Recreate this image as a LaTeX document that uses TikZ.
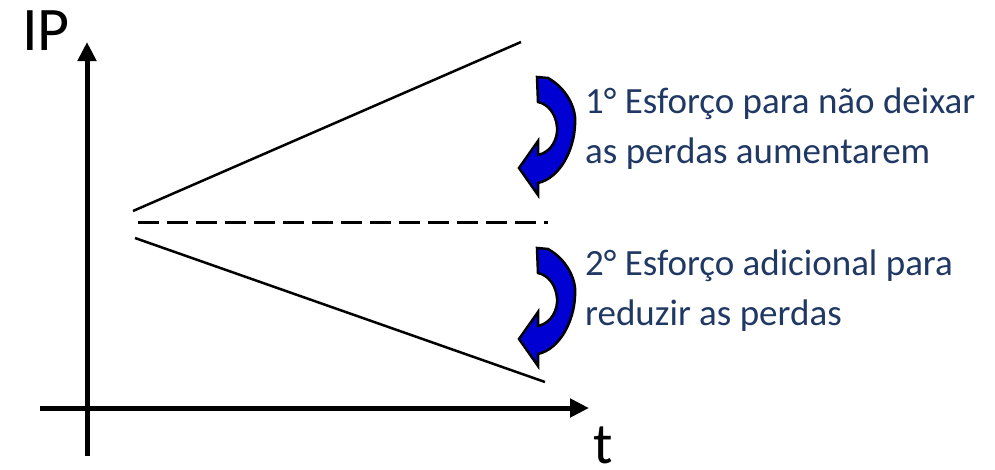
\documentclass[tikz,border=0pt]{standalone}
\usepackage{fontspec}
\setmainfont{Carlito}
\usetikzlibrary{arrows.meta}
\definecolor{txtblue}{RGB}{32,56,100}
\definecolor{arrblue}{RGB}{0,0,210}
\tikzset{
  axis/.style={line width=5pt,-{Triangle[length=19pt,width=18pt]}},
  trend/.style={line width=2.5pt},
  base/.style={line width=3pt,dash pattern=on 21pt off 8pt},
  curvearrow/.style={fill=arrblue,draw=black,line width=2.5pt,line join=miter},
  lbl/.style={text=txtblue,font=\fontsize{37}{50}\selectfont,align=left,inner sep=0pt,anchor=base west},
  axlbl/.style={font=\fontsize{62}{62}\selectfont,inner sep=0pt,anchor=base west}
}
\newcommand{\turnarrow}[1]{%
  \fill[curvearrow,shift={(0,#1)}] (537,77) -- (548,78)
    .. controls (566,88) and (577,108) .. (575,125)
    .. controls (574,150) and (560,178) .. (538,183)
    -- (538,195) -- (519,168) -- (538,141) -- (538,155)
    .. controls (552,152) and (558,138) .. (557,127)
    .. controls (556,114) and (548,104) .. (538,102) -- cycle;}
\begin{document}
\begin{tikzpicture}[x=1pt,y=-1pt]
\useasboundingbox (0,0) rectangle (995,469);
\coordinate (ybot) at (87,456);
\coordinate (ytop) at (87,42);
\coordinate (xl) at (40,408);
\coordinate (xr) at (589,408);
\draw[axis] (ybot) -- (ytop);
\draw[axis] (xl) -- (xr);
\node[axlbl] (ip) at (22,50) {IP};
\node[axlbl,font=\fontsize{58}{58}\selectfont] (t) at (593,463) {t};
\coordinate (u1) at (133,211);
\coordinate (u2) at (521,42);
\coordinate (d1) at (138,222);
\coordinate (d2) at (548,222);
\coordinate (l1) at (135,238);
\coordinate (l2) at (545,382);
\draw[trend] (u1) -- (u2);
\draw[base] (d1) -- (d2);
\draw[trend] (l1) -- (l2);
\turnarrow{0}
\turnarrow{171}
\node[lbl] (e1) at (585,163) {1° Esforço para não deixar\\as perdas aumentarem};
\node[lbl] (e2) at (585,325) {2° Esforço adicional para\\reduzir as perdas};
\end{tikzpicture}
\end{document}
